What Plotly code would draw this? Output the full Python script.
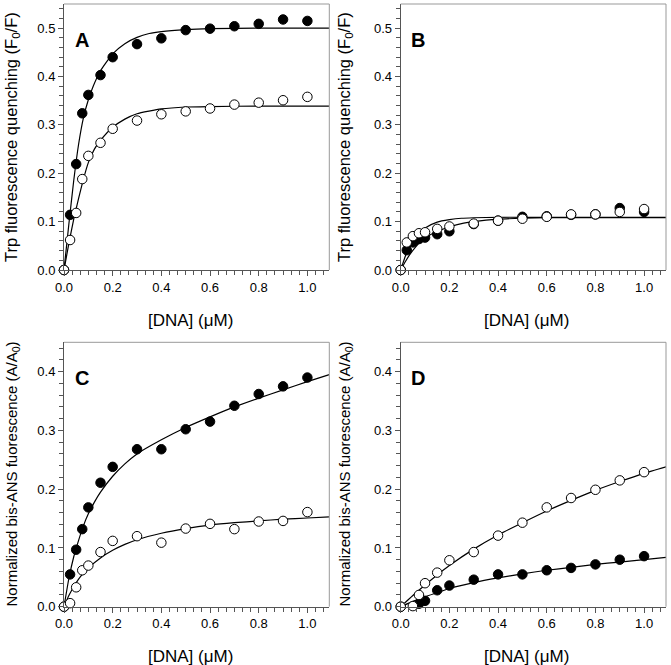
import plotly.graph_objects as go

W, H = 671, 665

# ---------------- data ----------------
# Panel A (Trp quenching)
a_x = [0, 0.025, 0.05, 0.075, 0.1, 0.15, 0.2, 0.3, 0.4, 0.5, 0.6, 0.7, 0.8, 0.9, 1.0]
a_filled = [0, 0.114, 0.219, 0.324, 0.362, 0.403, 0.440, 0.467, 0.479, 0.496, 0.499, 0.504, 0.509, 0.518, 0.515]
a_open = [0, 0.062, 0.118, 0.188, 0.236, 0.263, 0.292, 0.309, 0.322, 0.328, 0.334, 0.342, 0.346, 0.351, 0.358]
a_fit_x = [0, 0.02, 0.04, 0.06, 0.08, 0.1, 0.12, 0.15, 0.2, 0.25, 0.3, 0.35, 0.4, 0.5, 0.6, 0.8, 1.09]
a_fit_filled = [0, 0.095, 0.185, 0.26, 0.315, 0.352, 0.38, 0.412, 0.447, 0.468, 0.481, 0.489, 0.493, 0.497, 0.499, 0.5, 0.5]
a_fit_x2 = [0, 0.02, 0.04, 0.06, 0.08, 0.1, 0.125, 0.15, 0.2, 0.25, 0.3, 0.4, 0.5, 0.6, 0.8, 1.09]
a_fit_open = [0, 0.055, 0.105, 0.148, 0.188, 0.222, 0.25, 0.268, 0.295, 0.312, 0.323, 0.333, 0.337, 0.338, 0.339, 0.339]

# Panel B (Trp quenching)
b_x = [0, 0.025, 0.05, 0.075, 0.1, 0.15, 0.2, 0.3, 0.4, 0.5, 0.6, 0.7, 0.8, 0.9, 1.0]
b_filled = [0, 0.041, 0.057, 0.064, 0.067, 0.074, 0.080, 0.095, 0.102, 0.110, 0.111, 0.114, 0.115, 0.128, 0.120]
b_open = [0, 0.057, 0.070, 0.076, 0.078, 0.085, 0.090, 0.096, 0.102, 0.106, 0.110, 0.115, 0.115, 0.120, 0.126]
b_fit_x = [0, 0.02, 0.04, 0.06, 0.08, 0.1, 0.15, 0.2, 0.25, 0.3, 0.4, 0.5, 0.6, 0.8, 1.09]
b_fit_upper = [0, 0.03, 0.053, 0.068, 0.079, 0.087, 0.099, 0.104, 0.107, 0.108, 0.109, 0.109, 0.109, 0.109, 0.109]
b_fit_lower = [0, 0.018, 0.034, 0.047, 0.058, 0.066, 0.08, 0.089, 0.096, 0.1, 0.105, 0.107, 0.108, 0.108, 0.108]

# Panel C (bis-ANS)
c_x = [0, 0.025, 0.05, 0.075, 0.1, 0.15, 0.2, 0.3, 0.4, 0.5, 0.6, 0.7, 0.8, 0.9, 1.0]
c_filled = [0, 0.055, 0.097, 0.132, 0.169, 0.211, 0.238, 0.268, 0.268, 0.302, 0.315, 0.342, 0.362, 0.375, 0.390]
c_open = [0, 0.006, 0.033, 0.062, 0.070, 0.093, 0.112, 0.120, 0.109, 0.133, 0.141, 0.132, 0.145, 0.146, 0.161]
c_fit_x = [0, 0.02, 0.04, 0.06, 0.08, 0.1, 0.125, 0.15, 0.2, 0.25, 0.3, 0.4, 0.5, 0.6, 0.7, 0.8, 0.9, 1.0, 1.09]
c_fit_filled = [0, 0.048, 0.085, 0.113, 0.138, 0.158, 0.178, 0.195, 0.222, 0.243, 0.26, 0.284, 0.305, 0.323, 0.34, 0.355, 0.369, 0.383, 0.395]
c_fit_x2 = [0, 0.02, 0.04, 0.06, 0.08, 0.1, 0.15, 0.2, 0.25, 0.3, 0.4, 0.5, 0.6, 0.7, 0.8, 0.9, 1.0, 1.09]
c_fit_open = [0, 0.019, 0.034, 0.047, 0.057, 0.066, 0.083, 0.096, 0.106, 0.114, 0.125, 0.133, 0.139, 0.143, 0.146, 0.149, 0.151, 0.153]

# Panel D (bis-ANS)
d_x_open = [0, 0.05, 0.075, 0.1, 0.15, 0.2, 0.3, 0.4, 0.5, 0.6, 0.7, 0.8, 0.9, 1.0]
d_open = [0, 0.001, 0.020, 0.040, 0.058, 0.079, 0.093, 0.121, 0.143, 0.169, 0.185, 0.199, 0.215, 0.229]
d_x_filled = [0, 0.075, 0.1, 0.15, 0.2, 0.3, 0.4, 0.5, 0.6, 0.7, 0.8, 0.9, 1.0]
d_filled = [0, 0.005, 0.010, 0.028, 0.036, 0.046, 0.055, 0.055, 0.062, 0.066, 0.072, 0.080, 0.086]
d_fit_x = [0, 0.05, 0.1, 0.15, 0.2, 0.3, 0.4, 0.5, 0.6, 0.7, 0.8, 0.9, 1.0, 1.09]
d_fit_open = [0, 0.019, 0.037, 0.054, 0.07, 0.098, 0.122, 0.143, 0.163, 0.181, 0.198, 0.213, 0.227, 0.238]
d_fit_filled = [0, 0.009, 0.017, 0.024, 0.031, 0.041, 0.049, 0.056, 0.062, 0.067, 0.072, 0.076, 0.080, 0.084]

x_title = "[DNA] (\u03bcM)"
y_title_top = "Trp fluorescence quenching (F<sub>0</sub>/F)"
y_title_bottom = "Normalized bis-ANS fuorescence (A/A<sub>0</sub>)"
panel_letters = ["A", "B", "C", "D"]

# ---------------- layout geometry (pixels) ----------------
FONT = "Arial, Liberation Sans, sans-serif"
boxes = {  # left, right, top, bottom
    "A": (64, 329.3, 4, 270),
    "B": (400.7, 666, 4, 270),
    "C": (64, 329.3, 342.3, 606.7),
    "D": (400.7, 666, 342.3, 606.7),
}
ytitle_x = {"A": 12, "B": 345, "C": 12, "D": 345}
ytitle_size = {"A": 16.5, "B": 16.5, "C": 15, "D": 15}

def px(x):
    return x / W

def py(y):
    return 1 - y / H

fig = go.Figure()

def line(x, y, ax):
    fig.add_trace(go.Scatter(x=x, y=y, mode="lines", line=dict(color="black", width=1.2, shape="spline", smoothing=0.5),
                             xaxis="x" + ax, yaxis="y" + ax, showlegend=False, hoverinfo="skip"))

def pts(x, y, ax, filled):
    fig.add_trace(go.Scatter(x=x, y=y, mode="markers",
                             marker=dict(size=9.5, symbol="circle",
                                         color="black" if filled else "white",
                                         line=dict(color="black", width=1)),
                             xaxis="x" + ax, yaxis="y" + ax, showlegend=False, cliponaxis=False))

# A
line(a_fit_x, a_fit_filled, "")
line(a_fit_x2, a_fit_open, "")
pts(a_x, a_filled, "", True)
pts(a_x, a_open, "", False)
# B
line(b_fit_x, b_fit_upper, "2")
line(b_fit_x, b_fit_lower, "2")
pts(b_x, b_filled, "2", True)
pts(b_x, b_open, "2", False)
# C
line(c_fit_x, c_fit_filled, "3")
line(c_fit_x2, c_fit_open, "3")
pts(c_x, c_filled, "3", True)
pts(c_x, c_open, "3", False)
# D
line(d_fit_x, d_fit_open, "4")
line(d_fit_x, d_fit_filled, "4")
pts(d_x_filled, d_filled, "4", True)
pts(d_x_open, d_open, "4", False)

layout = dict(width=W, height=H, margin=dict(l=0, r=0, t=0, b=0, autoexpand=False),
              paper_bgcolor="white", plot_bgcolor="white", showlegend=False,
              font=dict(family=FONT, size=13, color="black"))

axis_names = [("xaxis", "yaxis", "x", "y"), ("xaxis2", "yaxis2", "x2", "y2"),
              ("xaxis3", "yaxis3", "x3", "y3"), ("xaxis4", "yaxis4", "x4", "y4")]
annotations = []
shapes = []
for i, key in enumerate(["A", "B", "C", "D"]):
    l, r, t, b = boxes[key]
    xa, ya, xr, yr = axis_names[i]
    ymax = 0.55 if key in "AB" else 0.45
    layout[xa] = dict(domain=[px(l), px(r)], range=[0, 1.09], anchor=yr, automargin=False,
                      showline=True, linecolor="#555", linewidth=1, mirror=False,
                      ticks="outside", ticklen=5, tickcolor="#555", tickwidth=1,
                      dtick=0.2, tick0=0, tickformat=".1f", showgrid=False, zeroline=False,
                      tickfont=dict(size=13, family=FONT),
                      minor=dict(ticks="outside", ticklen=4, dtick=0.2 / 6, tick0=0, tickcolor="#555", showgrid=False))
    layout[ya] = dict(domain=[py(b), py(t)], range=[0, ymax], anchor=xr, automargin=False,
                      showline=True, linecolor="#555", linewidth=1, mirror=False,
                      ticks="outside", ticklen=5, tickcolor="#555", tickwidth=1,
                      dtick=0.1, tick0=0, tickformat=".1f", showgrid=False, zeroline=False,
                      tickfont=dict(size=13, family=FONT),
                      minor=dict(ticks="outside", ticklen=4, dtick=0.02, tick0=0, tickcolor="#555", showgrid=False))
    # top and right frame lines
    shapes.append(dict(type="line", xref="paper", yref="paper", x0=px(l), x1=px(r), y0=py(t), y1=py(t),
                       line=dict(color="#999", width=1)))
    shapes.append(dict(type="line", xref="paper", yref="paper", x0=px(r), x1=px(r), y0=py(t), y1=py(b),
                       line=dict(color="#999", width=1)))
    # panel letter
    annotations.append(dict(text="<b>%s</b>" % panel_letters[i], x=px(l + 17.5), y=py(t + 36),
                            xref="paper", yref="paper", showarrow=False, xanchor="center", yanchor="middle",
                            font=dict(size=20, family=FONT, color="black")))
    # x title
    annotations.append(dict(text=x_title, x=px(l + 126), y=py(b + 50), xref="paper", yref="paper",
                            showarrow=False, xanchor="center", yanchor="middle",
                            font=dict(size=17, family=FONT, color="black")))
    # y title
    annotations.append(dict(text=y_title_top if key in "AB" else y_title_bottom,
                            x=px(ytitle_x[key]), y=py((t + b) / 2), xref="paper", yref="paper",
                            showarrow=False, xanchor="center", yanchor="middle", textangle=-90,
                            font=dict(size=ytitle_size[key], family=FONT, color="black")))

layout["annotations"] = annotations
layout["shapes"] = shapes
fig.update_layout(**layout)
fig.write_html("out.html", config={"displayModeBar": False},
               post_script="document.body.style.margin='0';document.body.style.overflow='hidden';")
